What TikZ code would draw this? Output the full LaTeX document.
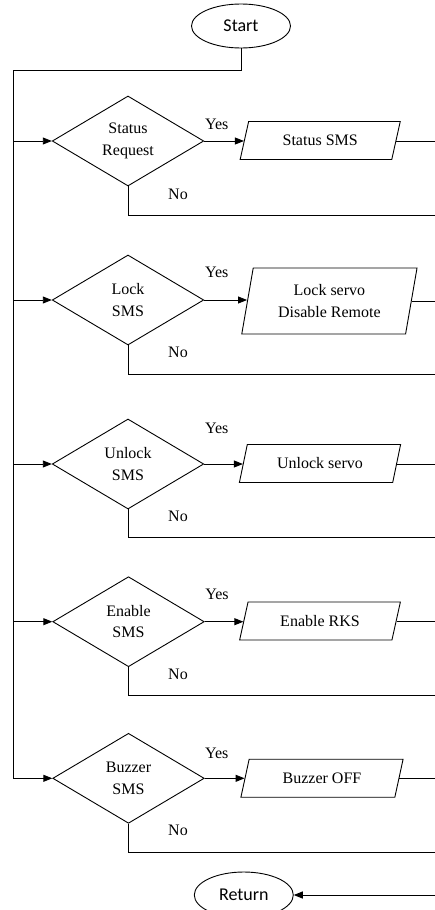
\documentclass[tikz,border=0pt]{standalone}
\usepackage{fontspec}
\setmainfont{Liberation Serif}
\newfontfamily\calibfont{Carlito}
\usetikzlibrary{shapes.geometric,arrows.meta}
\begin{document}
\begin{tikzpicture}[x=1pt,y=-1pt,line width=0.9pt,
  term/.style={ellipse,draw,minimum width=99pt,minimum height=44pt,inner sep=0pt,font=\calibfont\fontsize{18}{20}\selectfont},
  decision/.style={diamond,draw,aspect=1.68,minimum width=151.5pt,minimum height=90pt,inner sep=0pt,align=center,font=\fontsize{16}{21.6}\selectfont},
  iobox/.style={trapezium,draw,trapezium stretches=true,inner sep=0pt,align=center,font=\fontsize{16}{21.6}\selectfont},
  lbl/.style={inner sep=0pt,font=\fontsize{16}{19}\selectfont},
  arr/.style={-{Triangle[length=9pt,width=7pt]}}
]
\clip (0,0) rectangle (435,910);

\node[term] (start) at (241,26) {Start};
\node[term,minimum height=46pt] (ret) at (243.8,895) {Return};

\node[decision] (d1) at (128,141) {Status\\Request};
\node[decision] (d2) at (128,300) {Lock\\SMS};
\node[decision] (d3) at (128,464) {Unlock\\SMS};
\node[decision] (d4) at (128.5,621.7) {Enable\\SMS};
\node[decision] (d5) at (128.5,778.3) {Buzzer\\SMS};

\node[iobox,trapezium left angle=67.5,trapezium right angle=112.5,minimum width=161.5pt,minimum height=38pt] (p1) at (320.2,140.5) {Status SMS};
\node[iobox,trapezium left angle=76.8,trapezium right angle=103.2,minimum width=175.3pt,minimum height=66pt] (p2) at (329.4,301) {Lock servo\\Disable Remote};
\node[iobox,trapezium left angle=67.5,trapezium right angle=112.5,minimum width=161.5pt,minimum height=38pt] (p3) at (320,463.5) {Unlock servo};
\node[iobox,trapezium left angle=67.5,trapezium right angle=112.5,minimum width=161.5pt,minimum height=38pt] (p4) at (320,621) {Enable RKS};
\node[iobox,trapezium left angle=67.5,trapezium right angle=112.5,minimum width=162.5pt,minimum height=38pt] (p5) at (322,778.2) {Buzzer OFF};

\node[lbl] (y1) at (216.7,124) {Yes};
\node[lbl] (y2) at (216.7,272.7) {Yes};
\node[lbl] (y3) at (216.7,428.3) {Yes};
\node[lbl] (y4) at (217,594) {Yes};
\node[lbl] (y5) at (216.7,753.3) {Yes};

\node[lbl] (n1l) at (178,194) {No};
\node[lbl] (n2l) at (178,352.7) {No};
\node[lbl] (n3l) at (178,516.7) {No};
\node[lbl] (n4l) at (178,674.3) {No};
\node[lbl] (n5l) at (178,830.7) {No};

% free ends at the right edge
\coordinate (L) at (13,70);
\coordinate (r1) at (440,141);
\coordinate (r2) at (440,301);
\coordinate (r3) at (440,464);
\coordinate (r4) at (440,621.7);
\coordinate (r5) at (440,778.3);
\coordinate (n1) at (440,215.7);
\coordinate (n2) at (440,374);
\coordinate (n3) at (440,537.7);
\coordinate (n4) at (440,695.7);
\coordinate (n5) at (440,852.3);
\coordinate (r6) at (440,895);

% main left bus
\draw (start.south) -- (start.south |- L) -- (L) -- (L |- d5.west);
\foreach \i in {1,...,5}{
  \draw[arr] (L |- d\i.west) -- (d\i.west);
  \draw[arr] (d\i.east) -- (d\i.east -| p\i.west);
  \draw (p\i.east |- r\i) -- (r\i);
  \draw (d\i.south) -- (d\i.south |- n\i) -- (n\i);
}
\draw[arr] (r6) -- (ret.east);
\end{tikzpicture}
\end{document}
